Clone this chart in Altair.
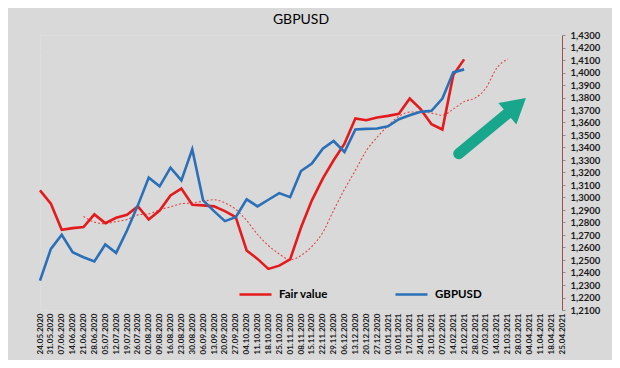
import altair as alt
import pandas as pd

# ---------------- data ----------------
dates = [
    "2020-05-24", "2020-05-31", "2020-06-07", "2020-06-14", "2020-06-21", "2020-06-28",
    "2020-07-05", "2020-07-12", "2020-07-19", "2020-07-26", "2020-08-02", "2020-08-09",
    "2020-08-16", "2020-08-23", "2020-08-30", "2020-09-06", "2020-09-13", "2020-09-20",
    "2020-09-27", "2020-10-04", "2020-10-11", "2020-10-18", "2020-10-25", "2020-11-01",
    "2020-11-08", "2020-11-15", "2020-11-22", "2020-11-29", "2020-12-06", "2020-12-13",
    "2020-12-20", "2020-12-27", "2021-01-03", "2021-01-10", "2021-01-17", "2021-01-24",
    "2021-01-31", "2021-02-07", "2021-02-14", "2021-02-21", "2021-02-28", "2021-03-07",
    "2021-03-14", "2021-03-21", "2021-03-28", "2021-04-04", "2021-04-11", "2021-04-18",
    "2021-04-25",
]

fair_value = [
    1.3057, 1.2950, 1.2742, 1.2755, 1.2763, 1.2865, 1.2795, 1.2838, 1.2862, 1.2929,
    1.2824, 1.2896, 1.3017, 1.3071, 1.2942, 1.2937, 1.2929, 1.2891, 1.2843, 1.2576,
    1.2509, 1.2429, 1.2455, 1.2505, 1.2760, 1.2977, 1.3151, 1.3298, 1.3431, 1.3632,
    1.3618, 1.3640, 1.3653, 1.3670, 1.3792, 1.3707, 1.3586, 1.3544, 1.3979, 1.4105,
]

gbpusd = [
    1.2335, 1.2589, 1.2702, 1.2562, 1.2522, 1.2488, 1.2624, 1.2557, 1.2736, 1.2937,
    1.3159, 1.3089, 1.3239, 1.3137, 1.3386, 1.2977, 1.2891, 1.2811, 1.2843, 1.2985,
    1.2929, 1.2982, 1.3035, 1.3003, 1.3212, 1.3271, 1.3391, 1.3452, 1.3364, 1.3544,
    1.3549, 1.3552, 1.3570, 1.3626, 1.3658, 1.3685, 1.3693, 1.3792, 1.4001, 1.4025,
]

# moving-average (dotted) line, starts at the 5th week
ma_start = 4
fair_value_ma = [
    1.2849, 1.2803, 1.2790, 1.2808, 1.2824, 1.2861, 1.2869, 1.2902, 1.2925, 1.2950,
    1.2957, 1.2970, 1.2982, 1.2957, 1.2905, 1.2816, 1.2704, 1.2616, 1.2548, 1.2501,
    1.2536, 1.2608, 1.2720, 1.2897, 1.3065, 1.3217, 1.3374, 1.3482, 1.3574, 1.3650,
    1.3683, 1.3685, 1.3675, 1.3658, 1.3707, 1.3767, 1.3795, 1.3875, 1.4035, 1.4108,
]

y_ticks = [1.21, 1.22, 1.23, 1.24, 1.25, 1.26, 1.27, 1.28, 1.29, 1.30, 1.31, 1.32,
           1.33, 1.34, 1.35, 1.36, 1.37, 1.38, 1.39, 1.40, 1.41, 1.42, 1.43]
grid_values = [1.2446, 1.2790, 1.3134, 1.3478, 1.3822, 1.4166]

series_names = ["Fair value", "GBPUSD"]
series_colors = ["#e41a1c", "#2a70b8"]

# annotation arrow (week index, value)
arrow_tail = (38.5, 1.3350)
arrow_head = (43.83, 1.3733)

# ---------------- build tables ----------------
def ms(d):
    return int(pd.Timestamp(d, tz="UTC").timestamp() * 1000)

def week_ms(idx):
    return int((pd.Timestamp(dates[0], tz="UTC") + pd.Timedelta(days=7 * idx)).timestamp() * 1000)

date_ms = [ms(d) for d in dates]

rows = []
for name, vals in zip(series_names, [fair_value, gbpusd]):
    for d, v in zip(date_ms, vals):
        rows.append({"date": d, "value": v, "series": name})
lines_df = pd.DataFrame(rows)

ma_df = pd.DataFrame({"date": date_ms[ma_start:ma_start + len(fair_value_ma)], "value": fair_value_ma})
grid_df = pd.DataFrame({"value": grid_values})
shaft_df = pd.DataFrame({"date": [week_ms(arrow_tail[0]), week_ms(arrow_head[0])],
                         "value": [arrow_tail[1], arrow_head[1]]})
head_df = pd.DataFrame({"date": [week_ms(arrow_head[0])], "value": [arrow_head[1]]})

FONT = "Lato"
TEAL = "#18a68c"

x_enc = alt.X(
    "date:T",
    scale=alt.Scale(type="utc", domain=[date_ms[0], date_ms[-1]], nice=False),
    axis=alt.Axis(
        values=date_ms, format="%d.%m.%Y", labelAngle=270, labelFontSize=8,
        labelFontWeight="bold", labelColor="#1a1a1a", labelPadding=3,
        ticks=False, domain=False, grid=False, labelOverlap=False, labelFont=FONT,
    ),
    title=None,
)
y_enc = alt.Y(
    "value:Q",
    scale=alt.Scale(domain=[1.21, 1.43], nice=False, zero=False),
    axis=alt.Axis(
        orient="right", values=y_ticks,
        labelExpr="replace(format(datum.value, '.4f'), '.', ',')",
        grid=False, labelFontSize=9.5, labelFontWeight="bold", labelColor="#1a1a1a",
        labelPadding=5, domainColor="#a0504a", domainWidth=1, tickColor="#909090",
        tickSize=3, labelFont=FONT,
    ),
    title=None,
)

grid = alt.Chart(grid_df).mark_rule(color="#d9d9d9", strokeWidth=1).encode(y=y_enc)

ma_line = alt.Chart(ma_df).mark_line(
    color="#e04848", strokeWidth=1.1, strokeDash=[2, 2], interpolate="monotone"
).encode(x=x_enc, y=y_enc)

lines = alt.Chart(lines_df).mark_line(strokeWidth=2.6).encode(
    x=x_enc,
    y=y_enc,
    color=alt.Color(
        "series:N",
        scale=alt.Scale(domain=series_names, range=series_colors),
        legend=alt.Legend(
            orient="none", legendX=198, legendY=242, direction="horizontal", title=None,
            symbolType="stroke", symbolSize=1024, symbolStrokeWidth=2.5,
            labelFontSize=11.5, labelFontWeight="bold", labelColor="#000000",
            labelFont=FONT, columnPadding=62, labelOffset=6, padding=0,
        ),
    ),
    order=alt.Order("date:Q"),
)

shaft = alt.Chart(shaft_df).mark_line(
    color=TEAL, strokeWidth=11, strokeCap="round"
).encode(x=x_enc, y=y_enc)

head = alt.Chart(head_df).mark_point(
    shape="triangle-up", size=784, angle=50, filled=True, color=TEAL, opacity=1
).encode(x=x_enc, y=y_enc)

chart = alt.layer(grid, ma_line, lines, shaft, head).properties(
    width=522,
    height=275,
    padding={"left": 32, "top": 27, "right": 50, "bottom": 50},
    autosize=alt.AutoSizeParams(type="none"),
    background="#d9d9d9",
    title=alt.TitleParams("GBPUSD", fontSize=14, fontWeight="normal", font=FONT,
                          color="#000000", anchor="middle", offset=3),
).configure_view(fill="#ffffff", stroke=None).configure(font=FONT)

chart.save("out.html", embed_options={"renderer": "svg", "actions": False})
